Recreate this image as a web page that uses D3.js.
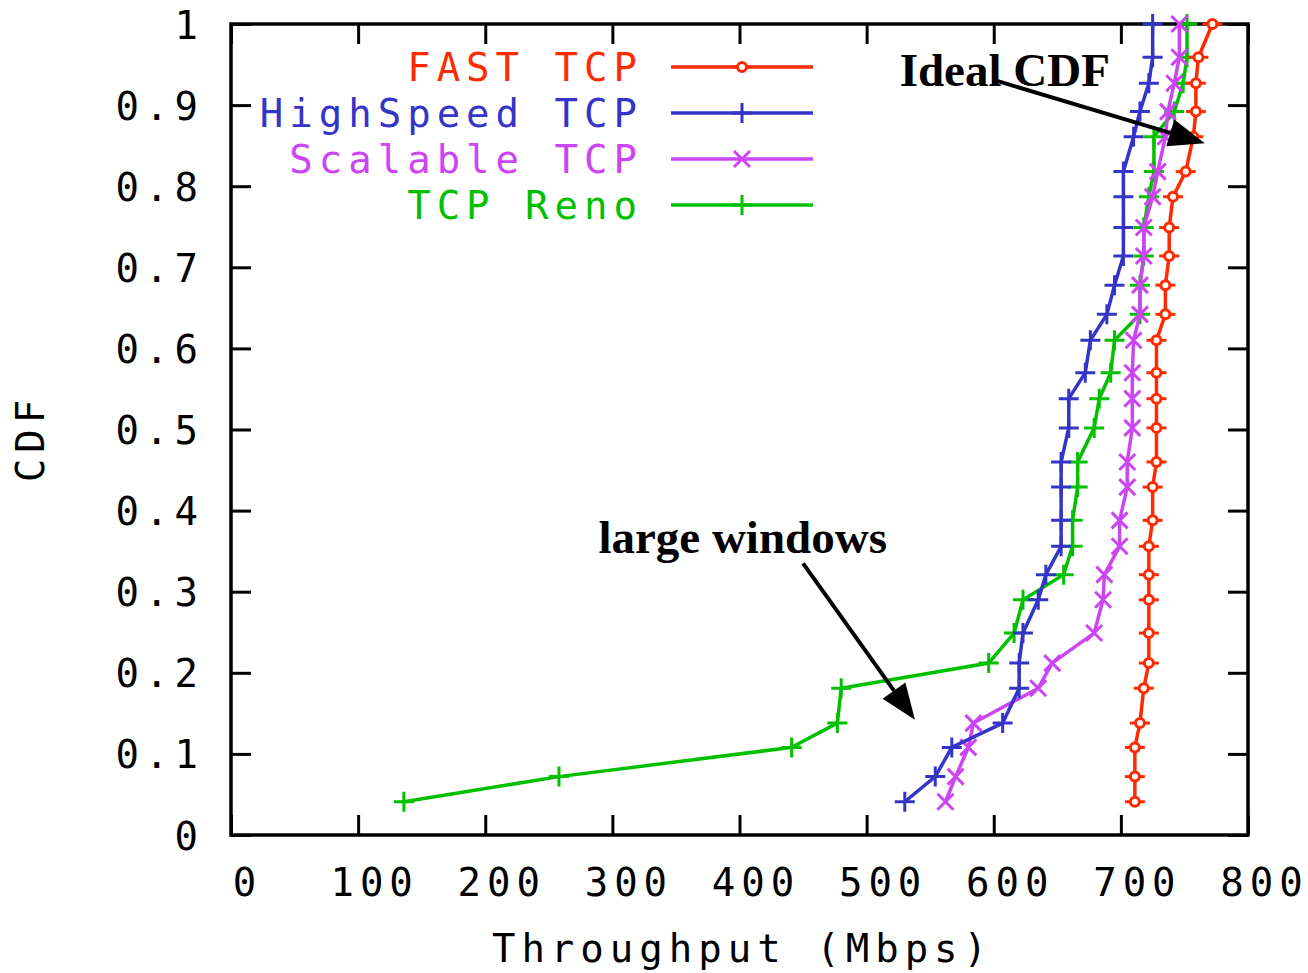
<html>
<head>
  <script src="https://d3js.org/d3.v7.min.js"></script>
  <style>
    body { margin: 0; background: #fff; }
    .tick text, .lbl {
      font-family: "DejaVu Sans Mono", "Liberation Mono", monospace;
      font-size: 39px;
      letter-spacing: 6px;
    }
    .note {
      font-family: "Liberation Serif", "Times New Roman", serif;
      font-weight: bold;
      font-size: 47px;
    }
  </style>
</head>
<body>
  <svg id="p" width="1308" height="973"></svg>
  <script>
    // CDF levels shared by all four curves
    const levels = [0.041, 0.072, 0.108, 0.138, 0.181, 0.212, 0.249, 0.290, 0.321, 0.356,
      0.388, 0.429, 0.460, 0.502, 0.538, 0.570, 0.610, 0.642, 0.678, 0.714,
      0.749, 0.787, 0.818, 0.861, 0.892, 0.927, 0.959, 1.0];

    // throughput (Mbps) at each level
    const fastTcp = [711, 711, 711, 715, 718, 722, 722, 722, 722, 722, 725, 725, 728, 728,
      728, 728, 728, 735, 735, 738, 738, 741, 751, 757, 759, 759, 761, 772];
    const highSpeedTcp = [530, 554, 567, 607, 620, 620, 623, 635, 641, 653, 653, 653, 653, 659,
      659, 672, 676, 689, 695, 702, 702, 702, 702, 710, 715, 722, 725, 725];
    const scalableTcp = [562, 570, 580, 584, 635, 646, 679, 686, 687, 699, 699, 705, 705, 709,
      709, 709, 710, 715, 715, 718, 718, 725, 729, 735, 737, 742, 746, 746];
    const tcpReno = [136, 258, 441, 477, 480, 596, 616, 623, 655, 662, 662, 666, 666, 679,
      683, 692, 695, 715, 715, 718, 718, 722, 726, 726, 742, 749, 752, 752];

    const seriesNames = ["FAST TCP", "HighSpeed TCP", "Scalable TCP", "TCP Reno"];
    const xTicks = [0, 100, 200, 300, 400, 500, 600, 700, 800];
    const yTicks = [0, 0.1, 0.2, 0.3, 0.4, 0.5, 0.6, 0.7, 0.8, 0.9, 1];

    const svg = d3.select("svg#p");
    const margin = { top: 24, right: 60, bottom: 138, left: 231 };
    const chartWidth = 1248 - margin.left;
    const chartHeight = 835 - margin.top;

    const xScale = d3.scaleLinear().domain([0, 800]).range([0, chartWidth]);
    const yScale = d3.scaleLinear().domain([0, 1]).range([chartHeight, 0]);

    const series = [
      { name: seriesNames[0], values: fastTcp, color: "#ff2a00", mark: "circle" },
      { name: seriesNames[1], values: highSpeedTcp, color: "#3434c8", mark: "plus" },
      { name: seriesNames[2], values: scalableTcp, color: "#cc44f4", mark: "cross" },
      { name: seriesNames[3], values: tcpReno, color: "#00c000", mark: "plus" }
    ];

    const chart = svg.append("g")
      .attr("transform", "translate(" + margin.left + "," + margin.top + ")");

    // axes with inward ticks on all four sides
    const tick = 20;
    const bottomAxis = d3.axisBottom(xScale).tickValues(xTicks).tickSizeInner(-tick).tickSizeOuter(0)
      .tickFormat(d3.format("d"));
    const topAxis = d3.axisTop(xScale).tickValues(xTicks).tickSizeInner(-tick).tickSizeOuter(0).tickFormat("");
    const leftAxis = d3.axisLeft(yScale).tickValues(yTicks).tickSizeInner(-tick).tickSizeOuter(0)
      .tickFormat(d => d === 0 || d === 1 ? d3.format("d")(d) : d3.format(".1f")(d));
    const rightAxis = d3.axisRight(yScale).tickValues(yTicks).tickSizeInner(-tick).tickSizeOuter(0).tickFormat("");

    const gx = chart.append("g").attr("transform", "translate(0," + chartHeight + ")").call(bottomAxis);
    chart.append("g").call(topAxis);
    const gy = chart.append("g").call(leftAxis);
    chart.append("g").attr("transform", "translate(" + chartWidth + ",0)").call(rightAxis);

    chart.selectAll(".domain").remove();
    chart.selectAll(".tick line").attr("stroke", "#000").attr("stroke-width", 3);
    chart.selectAll(".tick text").attr("fill", "#000");

    gx.selectAll(".tick text").attr("y", 33).attr("dy", "0.71em").attr("dx", 16);
    gy.selectAll(".tick text").attr("x", -27).attr("dy", "0.36em");

    // frame
    chart.append("rect")
      .attr("width", chartWidth)
      .attr("height", chartHeight)
      .attr("fill", "none")
      .attr("stroke", "#000")
      .attr("stroke-width", 3.5);

    // axis titles
    svg.append("text").attr("class", "lbl")
      .attr("x", margin.left + chartWidth / 2 + 3)
      .attr("y", 962)
      .attr("text-anchor", "middle")
      .text("Throughput (Mbps)");

    svg.append("text").attr("class", "lbl")
      .attr("transform", "translate(44,438) rotate(-90)")
      .attr("text-anchor", "middle")
      .text("CDF");

    function drawMark(g, kind, color, cx, cy) {
      if (kind === "plus") {
        g.append("path")
          .attr("d", "M" + (cx - 10) + "," + cy + "H" + (cx + 10) + "M" + cx + "," + (cy - 10) + "V" + (cy + 10))
          .attr("stroke", color).attr("stroke-width", 3).attr("fill", "none");
      } else if (kind === "cross") {
        g.append("path")
          .attr("d", "M" + (cx - 8) + "," + (cy - 8) + "L" + (cx + 8) + "," + (cy + 8) +
            "M" + (cx - 8) + "," + (cy + 8) + "L" + (cx + 8) + "," + (cy - 8))
          .attr("stroke", color).attr("stroke-width", 3).attr("fill", "none");
      } else {
        g.append("path")
          .attr("d", "M" + (cx - 10) + "," + cy + "H" + (cx + 10))
          .attr("stroke", color).attr("stroke-width", 3);
        g.append("circle")
          .attr("cx", cx).attr("cy", cy).attr("r", 4.5)
          .attr("stroke", color).attr("stroke-width", 3).attr("fill", "#fff");
      }
    }

    const line = d3.line()
      .x(d => xScale(d[0]))
      .y(d => yScale(d[1]));

    // draw Reno first so FAST ends on top
    series.slice().reverse().forEach(s => {
      const pts = s.values.map((v, i) => [v, levels[i]]);
      const g = chart.append("g");
      g.append("path")
        .datum(pts)
        .attr("d", line)
        .attr("fill", "none")
        .attr("stroke", s.color)
        .attr("stroke-width", 3.5);
      pts.forEach(p => drawMark(g, s.mark, s.color, xScale(p[0]), yScale(p[1])));
    });

    // legend
    const legend = svg.append("g");
    series.forEach((s, i) => {
      const ly = 67 + i * 46;
      legend.append("text").attr("class", "lbl")
        .attr("x", 643)
        .attr("y", ly)
        .attr("dy", "0.36em")
        .attr("text-anchor", "end")
        .attr("fill", s.color)
        .text(s.name);
      legend.append("line")
        .attr("x1", 671).attr("x2", 813)
        .attr("y1", ly).attr("y2", ly)
        .attr("stroke", s.color).attr("stroke-width", 3.5);
      drawMark(legend, s.mark, s.color, 742, ly);
    });

    // annotations (positions in data units)
    const notes = [
      { text: "Ideal CDF", x: 526, y: 0.923, from: [600, 0.931], to: [766, 0.853] },
      { text: "large windows", x: 289, y: 0.348, from: [450, 0.335], to: [538, 0.142] }
    ];
    notes.forEach(n => {
      chart.append("text").attr("class", "note")
        .attr("x", xScale(n.x))
        .attr("y", yScale(n.y))
        .text(n.text);
      const x1 = xScale(n.from[0]), y1 = yScale(n.from[1]);
      const x2 = xScale(n.to[0]), y2 = yScale(n.to[1]);
      const ang = Math.atan2(y2 - y1, x2 - x1);
      const hl = 36, hw = 14;
      const bx = x2 - hl * Math.cos(ang), by = y2 - hl * Math.sin(ang);
      chart.append("line")
        .attr("x1", x1).attr("y1", y1).attr("x2", bx).attr("y2", by)
        .attr("stroke", "#000").attr("stroke-width", 4);
      chart.append("path")
        .attr("d", "M" + x2 + "," + y2 +
          "L" + (bx + hw * Math.sin(ang)) + "," + (by - hw * Math.cos(ang)) +
          "L" + (bx - hw * Math.sin(ang)) + "," + (by + hw * Math.cos(ang)) + "Z")
        .attr("fill", "#000");
    });
  </script>
</body>
</html>
